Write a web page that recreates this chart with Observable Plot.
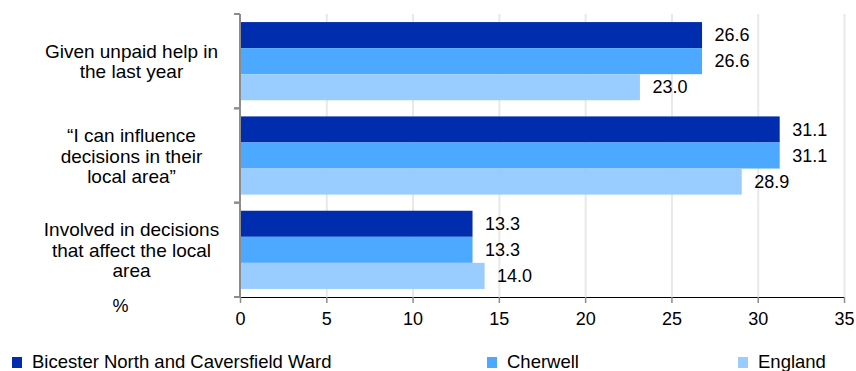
<!DOCTYPE html>
<html><head><meta charset="utf-8">
<script src="https://cdn.jsdelivr.net/npm/d3@7"></script>
<script src="https://cdn.jsdelivr.net/npm/@observablehq/plot@0.6"></script>
<style>
body{margin:0;background:#fff;font-family:"Liberation Sans",Arial,sans-serif;}
#chart{position:relative;width:856px;height:371px;overflow:hidden;}
#chart svg{position:absolute;left:0;top:0;}
svg g[aria-label^="x-axis"] line, svg g[aria-label^="x-axis"] path.domain, svg g[aria-label="x-axis tick"] path{stroke:#8c8c8c;stroke-width:1.5px;}
svg g[aria-label^="x-axis"] path.domain{stroke-width:2px;}
.legend{position:absolute;top:352px;left:0;width:856px;height:20px;font-size:18.5px;color:#000;}
.item{position:absolute;top:0;height:20px;display:flex;align-items:center;white-space:nowrap;}
.sw{width:10px;height:11px;margin-right:10px;flex:none;}
</style></head><body><div id="chart"></div>
<script>
const categories = [
  "Given unpaid help in\nthe last year",
  "\u201cI can influence\ndecisions in their\nlocal area\u201d",
  "Involved in decisions\nthat affect the local\narea"
];
const series = ["Bicester North and Caversfield Ward", "Cherwell", "England"];
const wardValues = [26.6, 31.1, 13.3];
const cherwellValues = [26.6, 31.1, 13.3];
const englandValues = [23.0, 28.9, 14.0];
const seriesColors = ["#002dad", "#4da8ff", "#99ccff"];
const xTicks = [0, 5, 10, 15, 20, 25, 30, 35];
const unitLabel = "%";

const valuesBySeries = [wardValues, cherwellValues, englandValues];
const data = [];
categories.forEach((c, i) => series.forEach((s, j) => data.push({category: c, series: s, value: valuesBySeries[j][i]})));
const lastCat = [categories[categories.length - 1]];

// y-axis line and band-boundary ticks (drawn inside each facet)
const axisTicks = (index, scales, values, dim) => {
  const g = d3.create("svg:g").attr("aria-label", "y-axis ticks");
  const x0 = scales.x(0);
  const top = dim.marginTop, bottom = dim.height - dim.marginBottom;
  const stroke = "#8c8c8c";
  [top, bottom].forEach(y => {
    g.append("line").attr("x1", x0 - 6).attr("x2", x0)
      .attr("y1", y).attr("y2", y).attr("stroke", stroke).attr("stroke-width", 2);
  });
  g.append("line").attr("x1", x0).attr("x2", x0).attr("y1", top).attr("y2", bottom)
    .attr("stroke", stroke).attr("stroke-width", 2);
  return g.node();
};

const plot = Plot.plot({
  width: 856,
  height: 345,
  marginLeft: 240,
  marginRight: 12,
  marginTop: 14,
  marginBottom: 48,
  style: {fontFamily: "Liberation Sans, Arial, sans-serif", fontSize: "18px", color: "#000", background: "#fff"},
  fy: {domain: categories, padding: 0, axis: null, round: false},
  y: {domain: series, paddingInner: 0, paddingOuter: 0.31, round: false, axis: null},
  x: {domain: [0, 35], ticks: xTicks, tickSize: 6, tickPadding: 9, tickFormat: d => String(d), label: null, line: true},
  color: {domain: series, range: seriesColors},
  marks: [
    Plot.ruleX(xTicks.slice(1), {stroke: "#e8e8e8", strokeWidth: 2}),
    Plot.barX(data, {fy: "category", y: "series", x: "value", fill: "series", insetRight: -3}),
    Plot.text(data, {fy: "category", y: "series", x: "value", text: d => d.value.toFixed(1), textAnchor: "start", dx: 15, fontSize: 18, fill: "#000"}),
    Plot.text(categories, {fy: d => d, x: () => 0, text: d => d, dx: -109, textAnchor: "middle", fontSize: 19, lineHeight: 1.08, fill: "#000"}),
    Plot.text(lastCat, {fy: d => d, x: () => 0, text: () => unitLabel, frameAnchor: "bottom", dx: -120, dy: 14, textAnchor: "middle", fontSize: 18, fill: "#000"}),
    axisTicks
  ]
});
const chart = document.getElementById("chart");
chart.appendChild(plot);

const legend = document.createElement("div");
legend.className = "legend";
const legendLeft = [12, 487, 738];
series.forEach((s, i) => {
  const it = document.createElement("div");
  it.className = "item";
  it.style.left = legendLeft[i] + "px";
  const sw = document.createElement("span");
  sw.className = "sw";
  sw.style.background = seriesColors[i];
  const t = document.createElement("span");
  t.textContent = s;
  it.appendChild(sw); it.appendChild(t);
  legend.appendChild(it);
});
chart.appendChild(legend);
</script></body></html>
